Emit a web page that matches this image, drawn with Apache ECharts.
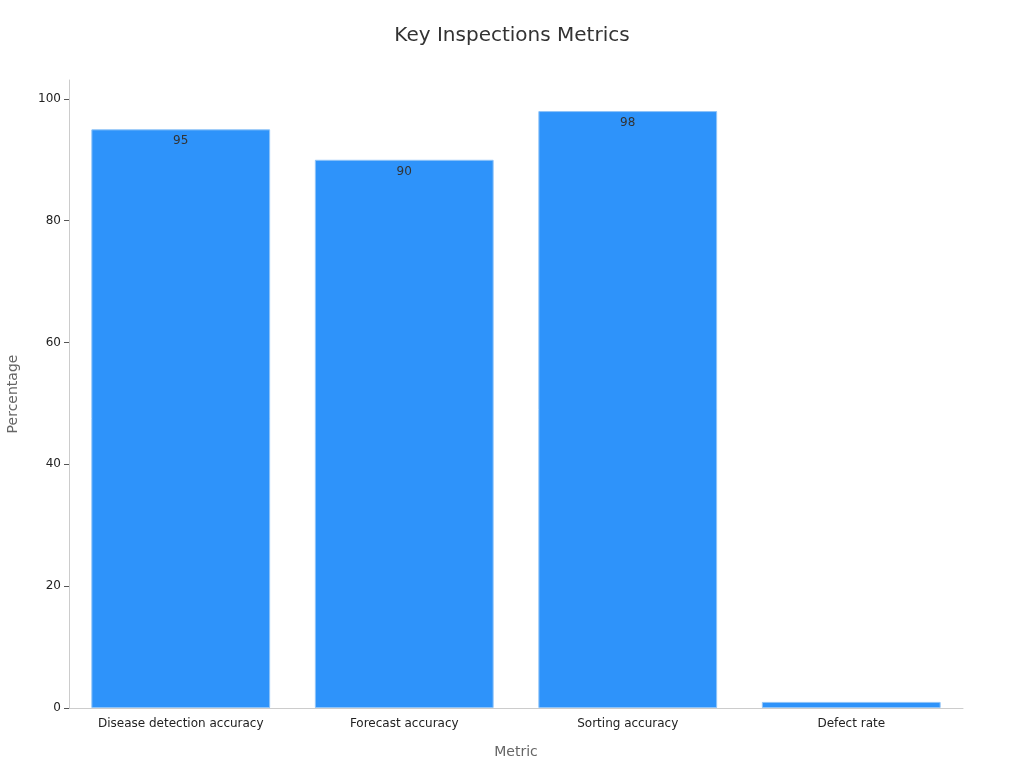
<!DOCTYPE html>
<html>
<head>
<meta charset="utf-8">
<script src="https://cdn.jsdelivr.net/npm/echarts@6/dist/echarts.min.js"></script>
<style>html,body{margin:0;padding:0;background:#fff}#c{width:1024px;height:768px}</style>
</head>
<body>
<div id="c"></div>
<script>
const categories = ["Disease detection accuracy", "Forecast accuracy", "Sorting accuracy", "Defect rate"];
const values = [95, 90, 98, 1];
const showLabel = [true, true, true, false];

const chart = echarts.init(document.getElementById('c'));
chart.setOption({
  textStyle: { fontFamily: 'DejaVu Sans' },
  title: {
    text: 'Key Inspections Metrics', left: 'center', top: 21,
    textStyle: { fontSize: 20, fontWeight: 'normal', color: '#333', fontFamily: 'DejaVu Sans' }
  },
  grid: { left: 69, right: 61, top: 80, bottom: 60, containLabel: false, outerBoundsMode: 'none' },
  xAxis: {
    type: 'category', data: categories,
    name: 'Metric', nameLocation: 'middle', nameGap: 37,
    nameTextStyle: { fontSize: 14, color: '#666' },
    axisLine: { lineStyle: { color: '#ccc' } },
    axisTick: { alignWithLabel: true, length: 5, lineStyle: { color: '#555' } },
    axisLabel: { fontSize: 12, color: '#222', margin: 10 }
  },
  yAxis: {
    type: 'value', min: 0, max: 103.1, interval: 20,
    name: 'Percentage', nameLocation: 'middle', nameGap: 49,
    nameTextStyle: { fontSize: 14, color: '#666' },
    axisLine: { show: true, lineStyle: { color: '#ccc' } },
    axisTick: { show: true, length: 5, lineStyle: { color: '#555' } },
    axisLabel: { fontSize: 12, color: '#222', showMaxLabel: false, margin: 8 },
    splitLine: { show: false }
  },
  series: [{
    type: 'bar',
    barCategoryGap: '20%',
    data: values.map((v, i) => ({ value: v, label: { show: showLabel[i] } })),
    itemStyle: { color: '#2E93FA', borderColor: '#8fc4f8', borderWidth: 1 },
    label: { show: true, position: 'insideTop', color: '#333', fontSize: 12, distance: 6 }
  }]
});
</script>
</body>
</html>
